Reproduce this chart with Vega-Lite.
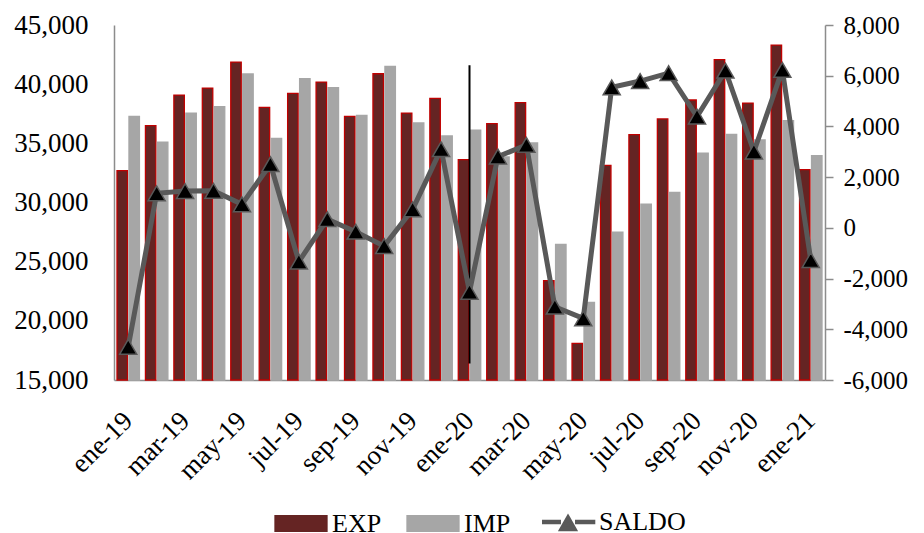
{
  "$schema": "https://vega.github.io/schema/vega-lite/v6.json",
  "width": 711,
  "height": 355,
  "autosize": {"type": "none"},
  "padding": {"left": 114, "top": 25, "right": 99, "bottom": 153},
  "background": "white",
  "datasets": {
    "bars": [
      {"mes": "ene-19", "serie": "EXP", "valor": 32700}, {"mes": "ene-19", "serie": "IMP", "valor": 37280},
      {"mes": "feb-19", "serie": "EXP", "valor": 36500}, {"mes": "feb-19", "serie": "IMP", "valor": 35110},
      {"mes": "mar-19", "serie": "EXP", "valor": 39080}, {"mes": "mar-19", "serie": "IMP", "valor": 37560},
      {"mes": "abr-19", "serie": "EXP", "valor": 39670}, {"mes": "abr-19", "serie": "IMP", "valor": 38100},
      {"mes": "may-19", "serie": "EXP", "valor": 41870}, {"mes": "may-19", "serie": "IMP", "valor": 40860},
      {"mes": "jun-19", "serie": "EXP", "valor": 38040}, {"mes": "jun-19", "serie": "IMP", "valor": 35420},
      {"mes": "jul-19", "serie": "EXP", "valor": 39220}, {"mes": "jul-19", "serie": "IMP", "valor": 40460},
      {"mes": "ago-19", "serie": "EXP", "valor": 40180}, {"mes": "ago-19", "serie": "IMP", "valor": 39700},
      {"mes": "sep-19", "serie": "EXP", "valor": 37280}, {"mes": "sep-19", "serie": "IMP", "valor": 37360},
      {"mes": "oct-19", "serie": "EXP", "valor": 40880}, {"mes": "oct-19", "serie": "IMP", "valor": 41500},
      {"mes": "nov-19", "serie": "EXP", "valor": 37560}, {"mes": "nov-19", "serie": "IMP", "valor": 36720},
      {"mes": "dic-19", "serie": "EXP", "valor": 38800}, {"mes": "dic-19", "serie": "IMP", "valor": 35620},
      {"mes": "ene-20", "serie": "EXP", "valor": 33620}, {"mes": "ene-20", "serie": "IMP", "valor": 36120},
      {"mes": "feb-20", "serie": "EXP", "valor": 36660}, {"mes": "feb-20", "serie": "IMP", "valor": 33850},
      {"mes": "mar-20", "serie": "EXP", "valor": 38440}, {"mes": "mar-20", "serie": "IMP", "valor": 35030},
      {"mes": "abr-20", "serie": "EXP", "valor": 23390}, {"mes": "abr-20", "serie": "IMP", "valor": 26460},
      {"mes": "may-20", "serie": "EXP", "valor": 18100}, {"mes": "may-20", "serie": "IMP", "valor": 21560},
      {"mes": "jun-20", "serie": "EXP", "valor": 33140}, {"mes": "jun-20", "serie": "IMP", "valor": 27500},
      {"mes": "jul-20", "serie": "EXP", "valor": 35730}, {"mes": "jul-20", "serie": "IMP", "valor": 29870},
      {"mes": "ago-20", "serie": "EXP", "valor": 37060}, {"mes": "ago-20", "serie": "IMP", "valor": 30860},
      {"mes": "sep-20", "serie": "EXP", "valor": 38660}, {"mes": "sep-20", "serie": "IMP", "valor": 34180},
      {"mes": "oct-20", "serie": "EXP", "valor": 42070}, {"mes": "oct-20", "serie": "IMP", "valor": 35760},
      {"mes": "nov-20", "serie": "EXP", "valor": 38400}, {"mes": "nov-20", "serie": "IMP", "valor": 35280},
      {"mes": "dic-20", "serie": "EXP", "valor": 43300}, {"mes": "dic-20", "serie": "IMP", "valor": 36910},
      {"mes": "ene-21", "serie": "EXP", "valor": 32770}, {"mes": "ene-21", "serie": "IMP", "valor": 33960}
    ],
    "saldo": [
      {"mes": "ene-19", "serie": "SALDO", "valor": -4690},
      {"mes": "feb-19", "serie": "SALDO", "valor": 1360},
      {"mes": "mar-19", "serie": "SALDO", "valor": 1450},
      {"mes": "abr-19", "serie": "SALDO", "valor": 1460},
      {"mes": "may-19", "serie": "SALDO", "valor": 930},
      {"mes": "jun-19", "serie": "SALDO", "valor": 2510},
      {"mes": "jul-19", "serie": "SALDO", "valor": -1330},
      {"mes": "ago-19", "serie": "SALDO", "valor": 340},
      {"mes": "sep-19", "serie": "SALDO", "valor": -150},
      {"mes": "oct-19", "serie": "SALDO", "valor": -720},
      {"mes": "nov-19", "serie": "SALDO", "valor": 730},
      {"mes": "dic-19", "serie": "SALDO", "valor": 3100},
      {"mes": "ene-20", "serie": "SALDO", "valor": -2520},
      {"mes": "feb-20", "serie": "SALDO", "valor": 2810},
      {"mes": "mar-20", "serie": "SALDO", "valor": 3270},
      {"mes": "abr-20", "serie": "SALDO", "valor": -3110},
      {"mes": "may-20", "serie": "SALDO", "valor": -3570},
      {"mes": "jun-20", "serie": "SALDO", "valor": 5540},
      {"mes": "jul-20", "serie": "SALDO", "valor": 5790},
      {"mes": "ago-20", "serie": "SALDO", "valor": 6100},
      {"mes": "sep-20", "serie": "SALDO", "valor": 4390},
      {"mes": "oct-20", "serie": "SALDO", "valor": 6200},
      {"mes": "nov-20", "serie": "SALDO", "valor": 3010},
      {"mes": "dic-20", "serie": "SALDO", "valor": 6230},
      {"mes": "ene-21", "serie": "SALDO", "valor": -1270}
    ],
    "marca": [{"mes": "ene-20", "desde": 16400, "hasta": 41600}]
  },
  "config": {
    "font": "Liberation Serif",
    "view": {"stroke": null},
    "axis": {
      "grid": false,
      "labelFont": "Liberation Serif",
      "labelFontSize": 27,
      "labelColor": "#000000",
      "domainColor": "#8C8C8C",
      "domainWidth": 1.5,
      "tickColor": "#8C8C8C",
      "tickWidth": 1.5,
      "title": null
    }
  },
  "encoding": {
    "x": {
      "field": "mes",
      "type": "ordinal",
      "sort": null,
      "scale": {
        "domain": ["ene-19","feb-19","mar-19","abr-19","may-19","jun-19","jul-19","ago-19","sep-19","oct-19","nov-19","dic-19","ene-20","feb-20","mar-20","abr-20","may-20","jun-20","jul-20","ago-20","sep-20","oct-20","nov-20","dic-20","ene-21"],
        "paddingInner": 0,
        "paddingOuter": 0
      },
      "axis": {
        "values": ["ene-19","mar-19","may-19","jul-19","sep-19","nov-19","ene-20","mar-20","may-20","jul-20","sep-20","nov-20","ene-21"],
        "labelAngle": -45,
        "labelAlign": "right",
        "labelBaseline": "top",
        "labelFontSize": 27,
        "labelOffset": -9,
        "ticks": false,
        "labelPadding": 27,
        "title": null
      }
    }
  },
  "layer": [
    {
      "layer": [
        {
          "data": {"name": "bars"},
          "mark": {"type": "bar", "strokeWidth": 1.3},
          "encoding": {
            "xOffset": {"field": "serie", "type": "nominal", "sort": ["EXP", "IMP"], "scale": {"paddingInner": 0.125, "paddingOuter": 0.25}},
            "y": {
              "field": "valor",
              "type": "quantitative",
              "scale": {"domain": [15000, 45000], "zero": false, "nice": false},
              "axis": {"values": [15000, 20000, 25000, 30000, 35000, 40000, 45000], "format": ",.0f", "ticks": false, "labelPadding": 26, "title": null}
            },
            "y2": {"datum": 15000},
            "color": {
              "field": "serie",
              "type": "nominal",
              "scale": {"domain": ["EXP", "IMP", "SALDO"], "range": ["#652423", "#A6A6A6", "#595959"]},
              "legend": {
                "orient": "none",
                "legendX": 161,
                "legendY": 484,
                "direction": "horizontal",
                "title": null,
                "labelFont": "Liberation Serif",
                "labelFontSize": 26,
                "labelColor": "#000000",
                "labelOffset": 18,
                "symbolOffset": 13,
                "columnPadding": 22,
                "symbolSize": 2704,
                "encode": {
                  "symbols": {
                    "update": {
                      "shape": {"signal": "datum.value === 'SALDO' ? 'M-1,0H-0.27M0.27,0H1.05M0,-0.16L0.24,0.26H-0.24Z' : 'M-1,-0.3H1V0.3H-1Z'"},
                      "size": {"value": 2704},
                      "fill": {"signal": "datum.value === 'EXP' ? '#652423' : datum.value === 'IMP' ? '#A6A6A6' : '#000000'"},
                      "stroke": {"signal": "datum.value === 'EXP' ? '#C00000' : datum.value === 'IMP' ? '#A6A6A6' : '#595959'"},
                      "strokeWidth": {"signal": "datum.value === 'SALDO' ? 4.5 : 1.3"},
                      "opacity": {"value": 1},
                      "fillOpacity": {"value": 1}
                    }
                  }
                }
              }
            },
            "stroke": {
              "field": "serie",
              "type": "nominal",
              "scale": {"domain": ["EXP", "IMP"], "range": ["#C00000", "#A6A6A6"]},
              "legend": null
            }
          }
        },
        {
          "data": {"name": "marca"},
          "mark": {"type": "rule", "color": "#000000", "strokeWidth": 2},
          "encoding": {
            "y": {"field": "desde", "type": "quantitative"},
            "y2": {"field": "hasta"}
          }
        }
      ]
    },
    {
      "data": {"name": "saldo"},
      "encoding": {
        "y": {
          "field": "valor",
          "type": "quantitative",
          "scale": {"domain": [-6000, 8000], "nice": false},
          "axis": {"orient": "right", "values": [-6000, -4000, -2000, 0, 2000, 4000, 6000, 8000], "format": ",.0f", "labelExpr": "replace(datum.label, '\u2212', '-')", "labelFontSize": 25, "ticks": true, "tickSize": 8, "labelPadding": 10, "title": null}
        }
      },
      "layer": [
        {
          "mark": {"type": "line", "strokeWidth": 5},
          "encoding": {
            "color": {"field": "serie", "type": "nominal"}
          }
        },
        {
          "mark": {"type": "point", "shape": "triangle-up", "size": 290, "filled": true, "fill": "#000000", "stroke": "#595959", "strokeWidth": 1.5, "opacity": 1}
        }
      ]
    }
  ],
  "resolve": {"scale": {"y": "independent"}}
}
